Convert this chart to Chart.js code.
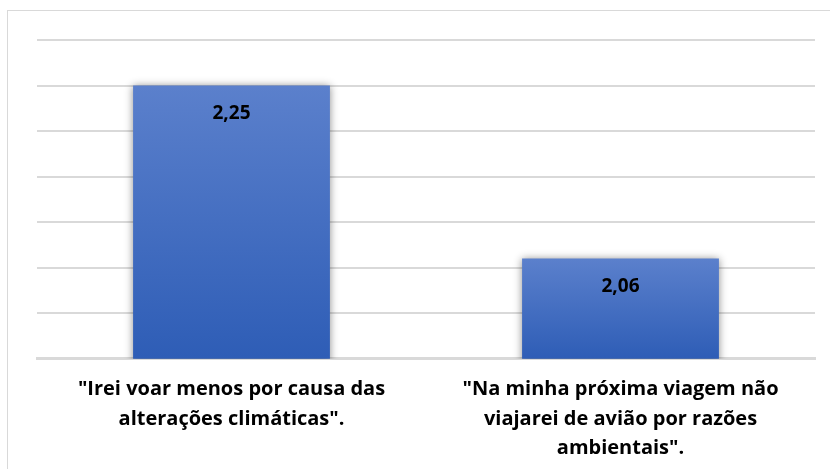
<!DOCTYPE html>
<html>
<head>
<meta charset="utf-8">
<script src="https://cdn.jsdelivr.net/npm/chart.js@4/dist/chart.umd.min.js"></script>
<style>
  html, body { margin: 0; padding: 0; background: #fff; overflow: hidden; }
  #wrap { position: relative; width: 830px; height: 479px; }
</style>
</head>
<body>
<div id="wrap"><canvas id="chart"></canvas></div>
<script>
(function(){

    const categories = [
        ['"Irei voar menos por causa das', 'alterações climáticas".'],
        ['"Na minha próxima viagem não', 'viajarei de avião por razões', 'ambientais".']
    ];
    const values = [2.25, 2.06];
    const valueLabels = ['2,25', '2,06'];
    const axisMin = 1.95;
    const axisMax = 2.30;
    const axisStep = 0.05;

    const fontFamily = '"Open Sans", Lato, sans-serif';

    // light frame around the whole chart, runs off right and bottom edges
    const framePlugin = {
        id: 'frame',
        beforeDraw(chart) {
            const ctx = chart.ctx;
            ctx.save();
            ctx.strokeStyle = '#d9d9d9';
            ctx.lineWidth = 1;
            ctx.strokeRect(7.5, 10.5, chart.width, chart.height);
            ctx.restore();
        }
    };

    // soft shadow on the bars
    const shadowPlugin = {
        id: 'barShadow',
        beforeDatasetsDraw(chart) {
            const ctx = chart.ctx;
            ctx.save();
            ctx.shadowColor = 'rgba(0,0,0,0.45)';
            ctx.shadowBlur = 8;
            ctx.shadowOffsetX = 0;
            ctx.shadowOffsetY = 0;
        },
        afterDatasetsDraw(chart) {
            chart.ctx.restore();
        }
    };

    // value labels inside the top of each bar
    const valueLabelPlugin = {
        id: 'valueLabels',
        afterDatasetsDraw(chart) {
            const ctx = chart.ctx;
            const meta = chart.getDatasetMeta(0);
            ctx.save();
            ctx.font = 'bold 19px ' + fontFamily;
            ctx.fillStyle = '#000';
            ctx.textAlign = 'center';
            ctx.textBaseline = 'middle';
            meta.data.forEach((bar, i) => {
                ctx.fillText(valueLabels[i], bar.x, bar.y + 28);
            });
            ctx.restore();
        }
    };

    new Chart(document.getElementById('chart'), {
        type: 'bar',
        data: {
            labels: categories,
            datasets: [{
                data: values,
                backgroundColor: function(context) {
                    const chart = context.chart;
                    const y = chart.scales.y;
                    if (!chart.chartArea || !y || !context.parsed) return '#4472c4';
                    const top = y.getPixelForValue(context.parsed.y);
                    const bottom = y.bottom;
                    if (!isFinite(top) || !isFinite(bottom)) return '#4472c4';
                    const g = chart.ctx.createLinearGradient(0, top, 0, bottom);
                    g.addColorStop(0, '#5b80cc');
                    g.addColorStop(1, '#2e5db6');
                    return g;
                },
                borderWidth: 0,
                barPercentage: 0.506,
                categoryPercentage: 1
            }]
        },
        options: {
            responsive: true,
            maintainAspectRatio: false,
            animation: false,
            layout: { padding: { left: 37, right: 15, top: 40, bottom: 0 } },
            plugins: {
                legend: { display: false },
                tooltip: { enabled: false }
            },
            scales: {
                x: {
                    grid: { display: false, drawTicks: false },
                    border: { display: true, color: '#d9d9d9', width: 3 },
                    ticks: {
                        color: '#000',
                        padding: 16,
                        maxRotation: 0,
                        autoSkip: false,
                        font: { family: fontFamily, size: 20, weight: 'bold', lineHeight: 1.47 }
                    }
                },
                y: {
                    min: axisMin,
                    max: axisMax,
                    display: true,
                    grid: { color: '#d9d9d9', lineWidth: 2, drawTicks: false },
                    border: { display: false },
                    ticks: { display: false, stepSize: axisStep }
                }
            }
        },
        plugins: [framePlugin, shadowPlugin, valueLabelPlugin]
    });

})();
</script>
</body>
</html>
